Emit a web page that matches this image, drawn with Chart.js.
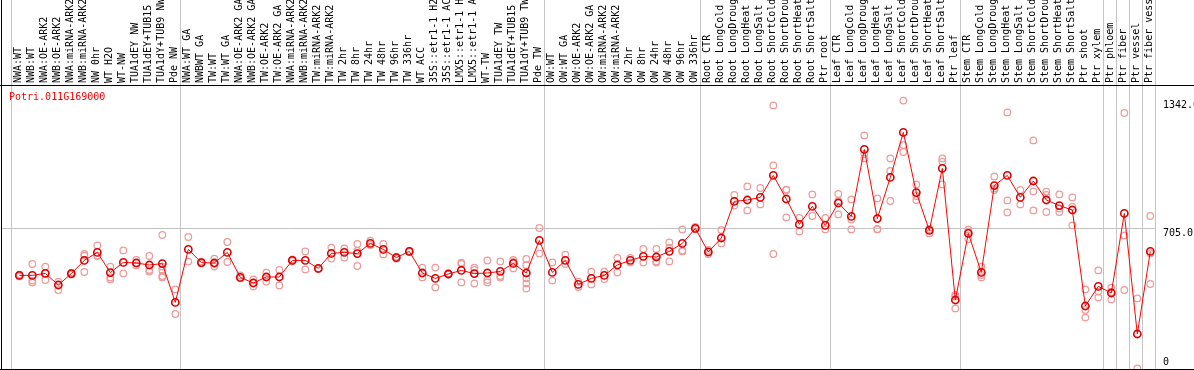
<!DOCTYPE html>
<html>
<head>
  <title>Potri.011G169000 expression profile</title>
  <script src="https://cdn.jsdelivr.net/npm/chart.js"></script>
  <style>
    body { margin: 0; background: #fff; }
    #chartBox { width: 1194px; height: 370px; }
  </style>
</head>
<body>
  <div id="chartBox"><canvas id="exprChart" width="1194" height="370"></canvas></div>
  <script>
    const geneName = 'Potri.011G169000';

    // sample names, left to right
    const categories = [
      'NWA:WT', 'NWB:WT', 'NWA:OE-ARK2', 'NWB:OE-ARK2', 'NWA:miRNA-ARK2', 'NWB:miRNA-ARK2',
      'NW 0hr', 'WT H2O', 'WT-NW', 'TUA1dEY NW', 'TUA1dEY+TUB15 NW', 'TUA1dY+TUB9 NW', 'Pde NW',
      'NWA:WT GA', 'NWBWT GA', 'TW:WT', 'TW:WT GA', 'NWA:OE-ARK2 GA', 'NWB:OE-ARK2 GA',
      'TW:OE-ARK2', 'TW:OE-ARK2 GA', 'NWA:miRNA-ARK2', 'NWB:miRNA-ARK2', 'TW:miRNA-ARK2',
      'TW:miRNA-ARK2', 'TW 2hr', 'TW 8hr', 'TW 24hr', 'TW 48hr', 'TW 96hr', 'TW 336hr',
      'WT ACC', '35S::etr1-1 H2O', '35S::etr1-1 ACC', 'LMX5::etr1-1 H2O', 'LMX5::etr1-1 ACC',
      'WT-TW', 'TUA1dEY TW', 'TUA1dEY+TUB15 TW', 'TUA1dY+TUB9 TW', 'Pde TW',
      'OW:WT', 'OW:WT GA', 'OW:OE-ARK2', 'OW:OE-ARK2 GA', 'OW:miRNA-ARK2', 'OW:miRNA-ARK2',
      'OW 2hr', 'OW 8hr', 'OW 24hr', 'OW 48hr', 'OW 96hr', 'OW 336hr',
      'Root CTR', 'Root LongCold', 'Root LongDrought', 'Root LongHeat', 'Root LongSalt',
      'Root ShortCold', 'Root ShortDrought', 'Root ShortHeat', 'Root ShortSalt', 'Ptr root',
      'Leaf CTR', 'Leaf LongCold', 'Leaf LongDrought', 'Leaf LongHeat', 'Leaf LongSalt',
      'Leaf ShortCold', 'Leaf ShortDrought', 'Leaf ShortHeat', 'Leaf ShortSalt', 'Ptr leaf',
      'Stem CTR', 'Stem LongCold', 'Stem LongDrought', 'Stem LongHeat', 'Stem LongSalt',
      'Stem ShortCold', 'Stem ShortDrought', 'Stem ShortHeat', 'Stem ShortSalt',
      'Ptr shoot', 'Ptr xylem', 'Ptr phloem', 'Ptr fiber', 'Ptr vessel', 'Ptr fiber vessel'
    ];

    // how many samples sit between two grey separators
    const groupSizes = [13, 28, 12, 10, 10, 11, 1, 1, 1, 1];

    const meanValues = [
      468, 468, 478, 420, 477, 543, 583, 482, 533, 530, 520, 527, 333,
      598, 532, 530, 583, 458, 430, 460, 460, 543, 543, 503, 578, 583, 577, 628, 598, 557, 588,
      480, 453, 475, 493, 477, 480, 488, 528, 480, 643,
      483, 543, 423, 453, 468, 520, 543, 563, 560, 588, 628, 703,
      585, 655, 838, 845, 858, 968, 850, 723, 813, 718,
      830, 763, 1098, 752, 958, 1183, 882, 693, 1003, 345,
      678, 483, 917, 968, 858, 940, 845, 817, 795, 315, 413,
      380, 778, 175, 588
    ];

    // single replicates for each sample
    const replicateValues = [
      [468, 472, 463], [525, 442, 432], [512, 445, 478], [437, 395], [482, 472],
      [575, 567, 485], [618, 565, 567], [512, 458, 448], [593, 478], [545, 517],
      [565, 495, 487], [670, 512, 495, 465, 458], [398, 275],
      [660, 537], [537, 527], [552, 512, 527], [635, 535], [468, 453], [448, 412],
      [482, 437], [495, 418], [548, 540], [588, 498], [503, 500], [607, 552],
      [603, 557], [625, 515, 590], [642, 620], [625, 573], [562, 552], [590, 585],
      [507, 458], [507, 408], [478, 472], [532, 525, 433], [507, 495, 428],
      [543, 445, 433], [538, 465, 457], [545, 503, 535], [550, 520, 453, 428, 402], [705, 578],
      [533, 442], [572, 525], [437, 410], [487, 423], [487, 450], [555, 483],
      [555, 532], [600, 532], [600, 538, 532], [633, 605, 538], [698, 592, 588], [698, 710],
      [595, 575], [695, 628], [870, 817], [913, 793], [905, 823],
      [1318, 1018, 575], [895, 758, 897], [755, 688], [873, 765], [755, 698],
      [875, 773, 840], [848, 747, 698], [1168, 1075, 1053], [853, 698, 700], [1053, 990, 840],
      [1342, 1120, 1085], [923, 865, 845], [698, 678, 700], [1053, 1037, 923], [370, 362, 303],
      [698, 687, 650], [512, 470, 458], [963, 903, 895], [1283, 843, 783], [895, 823],
      [1143, 888, 793], [887, 870, 785], [873, 803, 785], [858, 812, 718],
      [398, 295, 257], [493, 387, 358],
      [407, 348, 385], [1280, 668, 395], [353, 3], [765, 578, 425]
    ];

    const yTickValues = [0, 705.0, 1342.0];
    const yTickLabels = ['0', '705.0', '1342.0'];

    const monoFont = { family: '"DejaVu Sans Mono", monospace', size: 10 };
    const gridGrey = '#c4c4c4';
    const xMin = -1.41;
    const xMax = 87.36;

    // separator positions, a bit left of the midpoint between two samples
    const boundaries = [-0.63];
    let acc = 0;
    groupSizes.forEach(n => { acc += n; boundaries.push(acc - 0.63); });

    const meanPoints = meanValues.map((v, i) => ({ x: i, y: v }));
    const repPoints = [];
    replicateValues.forEach((reps, i) => reps.forEach(v => repPoints.push({ x: i, y: v })));

    // black frame, value labels on the right and the gene name
    const framePlugin = {
      id: 'frame',
      afterDraw(chart) {
        const { ctx, chartArea } = chart;
        const yScale = chart.scales.y;
        ctx.save();
        ctx.fillStyle = '#000';
        ctx.fillRect(chartArea.left, 0, 1, chart.height);
        ctx.fillRect(0, chartArea.top - 1, chart.width, 1);
        ctx.fillRect(0, chartArea.bottom, chart.width, 1);

        ctx.font = '10px "DejaVu Sans Mono"';
        ctx.textAlign = 'left';
        ctx.textBaseline = 'middle';
        yTickValues.forEach((v, i) => {
          const y = Math.min(yScale.getPixelForValue(v) + 5, chartArea.bottom - 7);
          ctx.fillText(yTickLabels[i], chartArea.right + 8, y);
        });

        ctx.fillStyle = '#ff0000';
        ctx.textBaseline = 'top';
        ctx.fillText(geneName, chartArea.left + 8, chartArea.top + 6);
        ctx.restore();
      }
    };

    new Chart(document.getElementById('exprChart'), {
      type: 'line',
      data: {
        datasets: [
          {
            label: geneName,
            data: meanPoints,
            borderColor: '#ff0000',
            borderWidth: 1,
            pointRadius: 3.6,
            pointBorderWidth: 1.6,
            pointBorderColor: '#d80000',
            pointBackgroundColor: 'rgba(0,0,0,0)',
            tension: 0
          },
          {
            label: 'replicates',
            data: repPoints,
            showLine: false,
            pointRadius: 3.3,
            pointBorderWidth: 1.2,
            pointBorderColor: '#ee9a9a',
            pointBackgroundColor: 'rgba(0,0,0,0)'
          }
        ]
      },
      options: {
        responsive: false,
        animation: false,
        layout: { autoPadding: false, padding: { left: 1, bottom: 1, top: 0, right: 0 } },
        plugins: {
          legend: { display: false },
          tooltip: { enabled: false }
        },
        scales: {
          x: {
            type: 'linear',
            position: 'top',
            weight: 1,
            min: xMin,
            max: xMax,
            bounds: 'data',
            afterBuildTicks: scale => {
              scale.ticks = categories.map((c, i) => ({ value: i }));
            },
            afterFit: scale => { scale.height = 86; },
            grid: { display: false, drawTicks: false },
            border: { display: false },
            ticks: {
              autoSkip: false,
              minRotation: 90,
              maxRotation: 90,
              padding: 3,
              labelOffset: 11,
              color: '#000',
              font: monoFont,
              callback: (value, index) => categories[index]
            }
          },
          xg: {
            axis: 'x',
            type: 'linear',
            position: 'top',
            weight: 0,
            min: xMin,
            max: xMax,
            bounds: 'data',
            afterBuildTicks: scale => {
              scale.ticks = boundaries.map(b => ({ value: b }));
            },
            afterFit: scale => { scale.height = 0; },
            grid: { color: gridGrey, lineWidth: 1, drawTicks: true, tickLength: 86 },
            border: { display: false },
            ticks: { display: false }
          },
          y: {
            type: 'linear',
            position: 'right',
            min: 0,
            max: 1415,
            afterBuildTicks: scale => {
              scale.ticks = yTickValues.map(v => ({ value: v }));
            },
            afterFit: scale => { scale.width = 39; },
            grid: {
              drawTicks: false,
              color: ctx => (ctx.tick && ctx.tick.value === 705 ? gridGrey : 'rgba(0,0,0,0)')
            },
            border: { display: false },
            ticks: { display: false }
          }
        }
      },
      plugins: [framePlugin]
    });
  </script>
</body>
</html>
